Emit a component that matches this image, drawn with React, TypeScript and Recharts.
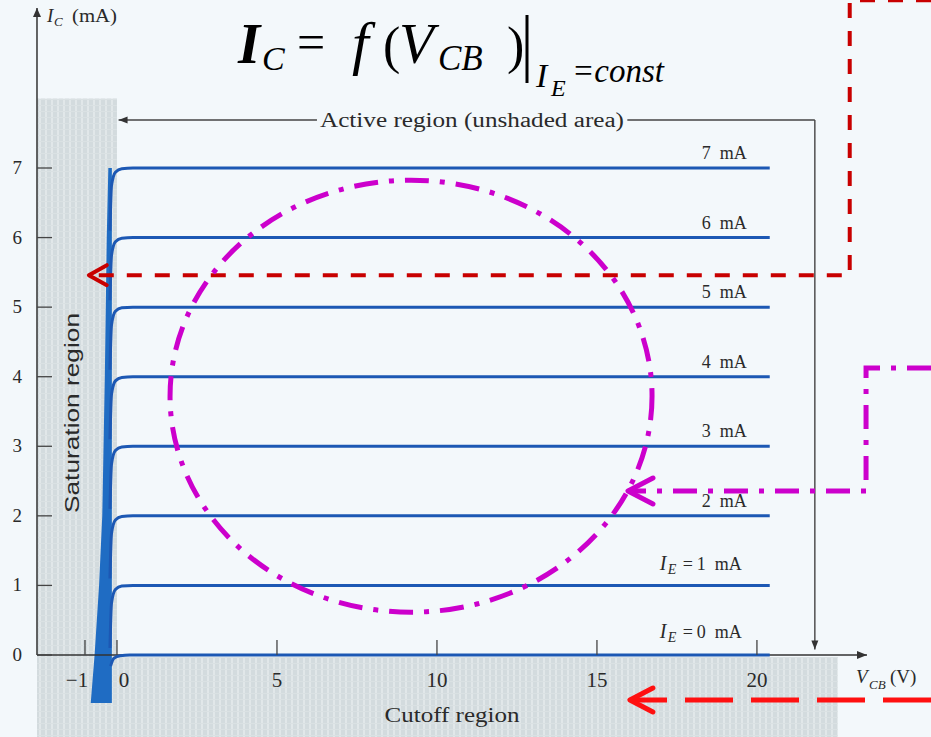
import React from 'react';
import {
  ComposedChart,
  Line,
  Area,
  XAxis,
  YAxis,
  ReferenceArea,
  ReferenceLine,
  ReferenceDot,
} from 'recharts';

const SERIF = "'Liberation Serif', 'Times New Roman', serif";
const SANS = "'Liberation Sans', Arial, sans-serif";
const INK = '#2a2a2a';
const AXIS = '#333';
const CURVE_BLUE = '#1c58b4';
const BAND_BLUE = '#1f6cc3';
const DARK_RED = '#c80000';
const RED = '#ff1010';
const MAGENTA = '#cc00cc';

// Visible window: V_CB in volts, I_C in milliamperes
const vcbWindow = [-3.656, 25.44];
const icWindow = [-1.179, 9.415];
// Drawn axes
const vcbAxisStart = -2.5;
const vcbAxisEnd = 23.44;
const icAxisEnd = 9.3;
const vcbTicks = [-1, 0, 5, 10, 15, 20];
const icTicks = [0, 1, 2, 3, 4, 5, 6, 7];

// Common-base output characteristics, [V_CB, I_C] per emitter current
const curveIE0 = [[-0.2, -0.16], [-0.1, -0.05], [0.1, -0.01], [0.4, 0], [20.4, 0]];
const curveIE1 = [[-0.22, 0.1], [-0.17, 0.75], [-0.05, 0.94], [0.15, 0.99], [0.5, 1], [20.4, 1]];
const curveIE2 = [[-0.22, 1.1], [-0.17, 1.75], [-0.05, 1.94], [0.15, 1.99], [0.5, 2], [20.4, 2]];
const curveIE3 = [[-0.22, 2.1], [-0.17, 2.75], [-0.05, 2.94], [0.15, 2.99], [0.5, 3], [20.4, 3]];
const curveIE4 = [[-0.22, 3.1], [-0.17, 3.75], [-0.05, 3.94], [0.15, 3.99], [0.5, 4], [20.4, 4]];
const curveIE5 = [[-0.22, 4.1], [-0.17, 4.75], [-0.05, 4.94], [0.15, 4.99], [0.5, 5], [20.4, 5]];
const curveIE6 = [[-0.22, 5.1], [-0.17, 5.75], [-0.05, 5.94], [0.15, 5.99], [0.5, 6], [20.4, 6]];
const curveIE7 = [[-0.22, 6.1], [-0.17, 6.75], [-0.05, 6.94], [0.15, 6.99], [0.5, 7], [20.4, 7]];
const emitterCurrents = [0, 1, 2, 3, 4, 5, 6, 7];
const curves = [curveIE0, curveIE1, curveIE2, curveIE3, curveIE4, curveIE5, curveIE6, curveIE7];

// Merged saturation-region band: V_CB, lower and upper I_C
const bandVcb = [-0.82, -0.7, -0.56, -0.46, -0.38, -0.32, -0.27, -0.16];
const bandLow = [-0.69, -0.69, -0.69, -0.69, -0.69, -0.69, -0.69, -0.69];
const bandHigh = [-0.69, 0, 1, 2, 4, 6, 7, 7];

// Shaded operating regions
const saturationRegion = { v1: -2.5, v2: 0, i1: -1.179, i2: 8.0 };
const cutoffRegion = { v1: -2.5, v2: 22.53, i1: -1.179, i2: -0.03 };

// "Active region" bracket
const activeLevel = 7.69;
const activeLeft = [0.05, 6.25];
const activeRight = [15.95, 21.81];
const activeDrop = [7.69, 0.08];

// Callout paths, [V_CB, I_C]
const redCallout = [[25.44, 9.41], [22.9, 9.41], [22.9, 5.46], [-0.88, 5.46]];
const magentaCallout = [[25.44, 4.125], [23.41, 4.125], [23.41, 2.357], [15.97, 2.357]];
const cutoffCallout = [[25.44, -0.647], [16.03, -0.647]];
const ellipseCenter = [9.19, 3.72];

const toRows = (pts: number[][]) => pts.map(([v, i]) => ({ v, i }));
const bandRows = bandVcb.map((v, k) => ({ v, lo: bandLow[k], hi: bandHigh[k] }));

const xTickShape = (val: number) => (p: any) => {
  const { cx, cy } = p;
  const dx = val === 0 ? 7 : val === -1 ? -8 : 0;
  return (
    <g>
      <line x1={cx} y1={cy} x2={cx} y2={cy - 15} stroke="#444" strokeWidth={1.3} />
      <text x={cx + dx} y={cy + 32} textAnchor="middle" fontSize={21} fontFamily={SERIF} fill={INK}>
        {val < 0 ? `\u2212${Math.abs(val)}` : val}
      </text>
    </g>
  );
};

const yTickShape = (val: number) => (p: any) => {
  const { cx, cy } = p;
  return (
    <g>
      <line x1={cx} y1={cy} x2={cx + 15} y2={cy} stroke="#444" strokeWidth={1.3} />
      <text x={cx - 15} y={cy + 6} textAnchor="end" fontSize={19} fontFamily={SERIF} fill={INK}>
        {val}
      </text>
    </g>
  );
};

const makeCurveLabel = (ie: number, lastIndex: number) => (p: any) => {
  if (p.index !== lastIndex) return null;
  const { x, y } = p;
  if (ie <= 1) {
    const base = x - 110;
    const by = y - (ie === 0 ? 17 : 15);
    return (
      <g fontFamily={SERIF} fill={INK}>
        <text x={base} y={by} fontSize={20} fontStyle="italic">I</text>
        <text x={base + 8} y={by + 4} fontSize={14} fontStyle="italic">E</text>
        <text x={base + 23} y={by} fontSize={18}>=</text>
        <text x={base + 37} y={by} fontSize={18}>{ie}</text>
        <text x={base + 55} y={by} fontSize={18}>mA</text>
      </g>
    );
  }
  return (
    <text x={x - 68} y={y - 9} fontSize={18} fontFamily={SERIF} fill={INK}>
      {ie}
      <tspan dx={9}>mA</tspan>
    </text>
  );
};

const chevronLeft = (len: number, half: number, color: string, w: number) => (p: any) => (
  <polyline
    points={`${p.cx + len},${p.cy - half} ${p.cx},${p.cy} ${p.cx + len},${p.cy + half}`}
    fill="none"
    stroke={color}
    strokeWidth={w}
    strokeLinecap="round"
    strokeLinejoin="round"
  />
);

const triangle = (dir: 'left' | 'down' | 'up' | 'right', len: number, half: number) => (p: any) => {
  const { cx, cy } = p;
  let pts = '';
  if (dir === 'left') pts = `${cx},${cy} ${cx + len},${cy - half} ${cx + len},${cy + half}`;
  if (dir === 'right') pts = `${cx},${cy} ${cx - len},${cy - half} ${cx - len},${cy + half}`;
  if (dir === 'down') pts = `${cx},${cy} ${cx - half},${cy - len} ${cx + half},${cy - len}`;
  if (dir === 'up') pts = `${cx},${cy} ${cx - half},${cy + len} ${cx + half},${cy + len}`;
  return <polygon points={pts} fill={AXIS} />;
};

const dashDotEllipse = (p: any) => (
  <ellipse
    cx={p.cx}
    cy={p.cy}
    rx={241}
    ry={216}
    fill="none"
    stroke={MAGENTA}
    strokeWidth={5}
    strokeDasharray="24 11 5 11"
  />
);

export default function App() {
  return (
    <div style={{ position: 'relative', width: 931, height: 737, background: '#f3f8fb', overflow: 'hidden' }}>
      <style>{`body { margin: 0; }`}</style>
      <svg width={0} height={0} style={{ position: 'absolute' }}>
        <defs>
          <pattern id="regionShade" width={6} height={6} patternUnits="userSpaceOnUse">
            <rect width={6} height={6} fill="#d3dbde" />
            <rect x={3} width={2} height={6} fill="#e1e7e9" />
            <rect y={3} width={6} height={1} fill="#dae1e3" />
          </pattern>
        </defs>
      </svg>

      <ComposedChart width={931} height={737} margin={{ top: 0, right: 0, bottom: 0, left: 0 }}>
        <XAxis dataKey="v" type="number" domain={vcbWindow} hide />
        <YAxis type="number" domain={icWindow} hide />

        <ReferenceArea
          x1={saturationRegion.v1}
          x2={saturationRegion.v2}
          y1={saturationRegion.i1}
          y2={saturationRegion.i2}
          fill="url(#regionShade)"
          fillOpacity={1}
          stroke="none"
        />
        <ReferenceArea
          x1={cutoffRegion.v1}
          x2={cutoffRegion.v2}
          y1={cutoffRegion.i1}
          y2={cutoffRegion.i2}
          fill="url(#regionShade)"
          fillOpacity={1}
          stroke="none"
        />

        {/* Axes */}
        <ReferenceLine
          segment={[{ x: vcbAxisStart, y: 0 }, { x: vcbAxisEnd, y: 0 }]}
          stroke={AXIS}
          strokeWidth={1.5}
        />
        <ReferenceLine
          segment={[{ x: vcbAxisStart, y: 0 }, { x: vcbAxisStart, y: icAxisEnd }]}
          stroke={AXIS}
          strokeWidth={1.5}
        />
        <ReferenceDot x={vcbAxisStart} y={icAxisEnd} r={0} shape={triangle('up', 9, 4)} />
        <ReferenceDot x={vcbAxisEnd} y={0} r={0} shape={triangle('right', 10, 4)} />
        {vcbTicks.map((t) => (
          <ReferenceDot key={`xt-${t}`} x={t} y={0} r={0} shape={xTickShape(t)} />
        ))}
        {icTicks.map((t) => (
          <ReferenceDot key={`yt-${t}`} x={vcbAxisStart} y={t} r={0} shape={yTickShape(t)} />
        ))}

        <Area
          data={bandRows}
          dataKey={(d: any) => [d.lo, d.hi]}
          type="linear"
          stroke="none"
          fill={BAND_BLUE}
          fillOpacity={1}
          isAnimationActive={false}
          activeDot={false}
        />

        {curves.map((pts, k) => (
          <Line
            key={`ie-${k}`}
            data={toRows(pts)}
            dataKey="i"
            type="monotone"
            stroke={CURVE_BLUE}
            strokeWidth={3}
            dot={false}
            activeDot={false}
            isAnimationActive={false}
            label={makeCurveLabel(emitterCurrents[k], pts.length - 1)}
          />
        ))}

        {/* Active region bracket */}
        <ReferenceLine
          segment={[{ x: activeLeft[0], y: activeLevel }, { x: activeLeft[1], y: activeLevel }]}
          stroke="#444"
          strokeWidth={1.4}
        />
        <ReferenceLine
          segment={[{ x: activeRight[0], y: activeLevel }, { x: activeRight[1], y: activeLevel }]}
          stroke="#444"
          strokeWidth={1.4}
        />
        <ReferenceLine
          segment={[{ x: activeRight[1], y: activeDrop[0] }, { x: activeRight[1], y: activeDrop[1] }]}
          stroke="#444"
          strokeWidth={1.4}
        />
        <ReferenceDot x={activeLeft[0]} y={activeLevel} r={0} shape={triangle('left', 9, 3.5)} />
        <ReferenceDot x={activeRight[1]} y={activeDrop[1]} r={0} shape={triangle('down', 9, 3.5)} />

        {/* Callouts */}
        <Line
          data={toRows(redCallout)}
          dataKey="i"
          type="linear"
          stroke={DARK_RED}
          strokeWidth={4}
          strokeDasharray="15 13"
          dot={false}
          activeDot={false}
          isAnimationActive={false}
        />
        <ReferenceDot
          x={redCallout[3][0]}
          y={redCallout[3][1]}
          r={0}
          shape={chevronLeft(18, 10, DARK_RED, 4)}
        />

        <ReferenceDot x={ellipseCenter[0]} y={ellipseCenter[1]} r={0} shape={dashDotEllipse} />

        <Line
          data={toRows(magentaCallout)}
          dataKey="i"
          type="linear"
          stroke={MAGENTA}
          strokeWidth={5}
          strokeDasharray="24 11 5 11"
          dot={false}
          activeDot={false}
          isAnimationActive={false}
        />
        <ReferenceDot
          x={magentaCallout[3][0]}
          y={magentaCallout[3][1]}
          r={0}
          shape={chevronLeft(25, 13, MAGENTA, 5)}
        />

        <Line
          data={toRows(cutoffCallout)}
          dataKey="i"
          type="linear"
          stroke={RED}
          strokeWidth={5}
          strokeDasharray="48 18"
          dot={false}
          activeDot={false}
          isAnimationActive={false}
        />
        <ReferenceDot
          x={cutoffCallout[1][0]}
          y={cutoffCallout[1][1]}
          r={0}
          shape={chevronLeft(23, 12, RED, 5)}
        />
      </ComposedChart>

      <svg
        width={931}
        height={737}
        style={{ position: 'absolute', left: 0, top: 0, pointerEvents: 'none' }}
      >
        {/* Formula heading */}
        <g fontFamily={SERIF} fill="#000">
          <text x={238} y={63} fontSize={57} fontStyle="italic" fontWeight="bold">I</text>
          <text x={262} y={70} fontSize={34} fontStyle="italic">C</text>
          <text x={297} y={59} fontSize={50}>=</text>
          <text x={352} y={63} fontSize={60} fontStyle="italic">f</text>
          <text x={383} y={63} fontSize={52}>(</text>
          <text x={399} y={63} fontSize={57} fontStyle="italic">V</text>
          <text x={438} y={70} fontSize={35} fontStyle="italic">CB</text>
          <text x={507} y={63} fontSize={52}>)</text>
          <line x1={527} y1={15} x2={527} y2={83} stroke="#000" strokeWidth={3} />
          <text x={536} y={87} fontSize={34} fontStyle="italic">I</text>
          <text x={551} y={96} fontSize={24} fontStyle="italic">E</text>
          <text x={572} y={82} fontSize={33} fontStyle="italic">=const</text>
        </g>

        {/* Axis titles */}
        <g fontFamily={SERIF} fill={INK}>
          <text x={47} y={22} fontSize={19} fontStyle="italic">I</text>
          <text x={54} y={26} fontSize={13} fontStyle="italic">C</text>
          <text x={72} y={22} fontSize={19} textLength={45} lengthAdjust="spacingAndGlyphs">(mA)</text>

          <text x={856} y={683} fontSize={19} fontStyle="italic">V</text>
          <text x={869} y={689} fontSize={13} fontStyle="italic">CB</text>
          <text x={890} y={683} fontSize={19}>(V)</text>
        </g>

        {/* Region names */}
        <text
          x={472}
          y={127}
          textAnchor="middle"
          fontSize={20}
          fontFamily={SERIF}
          fill={INK}
          textLength={304}
          lengthAdjust="spacingAndGlyphs"
        >
          Active region (unshaded area)
        </text>
        <text
          x={452}
          y={722}
          textAnchor="middle"
          fontSize={21}
          fontFamily={SERIF}
          fill={INK}
          textLength={135}
          lengthAdjust="spacingAndGlyphs"
        >
          Cutoff region
        </text>
        <text
          x={0}
          y={0}
          transform="translate(79 413) rotate(-90)"
          textAnchor="middle"
          fontSize={20}
          fontFamily={SANS}
          fill={INK}
          textLength={200}
          lengthAdjust="spacingAndGlyphs"
        >
          Saturation region
        </text>
      </svg>
    </div>
  );
}
